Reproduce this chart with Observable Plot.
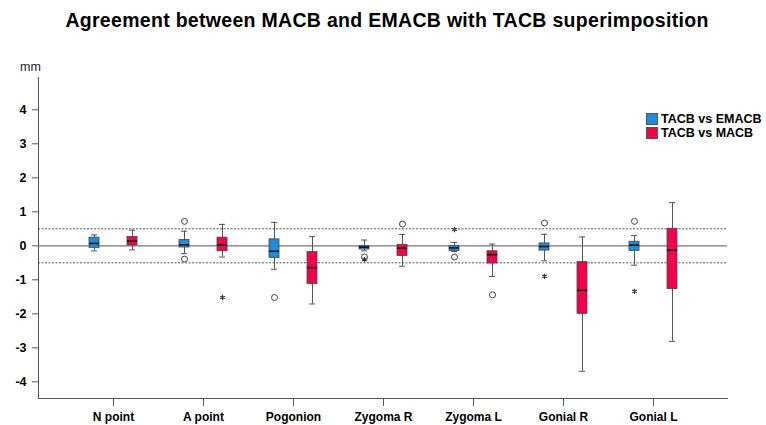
<!DOCTYPE html>
<html><head><meta charset="utf-8">
<script src="https://cdn.jsdelivr.net/npm/d3@7"></script>
<script src="https://cdn.jsdelivr.net/npm/@observablehq/plot@0.6"></script>
<style>
body{margin:0;background:#fff;font-family:"Liberation Sans",Arial,sans-serif;}
#wrap{position:relative;width:766px;height:425px;overflow:hidden;}
#title{height:40px;box-sizing:border-box;padding-top:9px;padding-left:8px;text-align:center;font-weight:bold;font-size:19.5px;line-height:22px;letter-spacing:0.3px;color:#000;white-space:nowrap;}
#legend{position:absolute;left:646px;top:112px;font-weight:bold;font-size:12.5px;color:#000;}
.li{display:flex;align-items:center;height:14px;}
.sw{width:12px;height:12px;border:1px solid #555;box-sizing:border-box;margin-right:3px;}
</style></head><body>
<div id="wrap">
<div id="title">Agreement between MACB and EMACB with TACB superimposition</div>
<div id="chart"></div>
<div id="legend"></div>
</div>
<script>
const categories = ["N point","A point","Pogonion","Zygoma R","Zygoma L","Gonial R","Gonial L"];
const series = ["TACB vs EMACB","TACB vs MACB"];
const colors = ["#1a8de3","#f2044d"];

// TACB vs EMACB box statistics (mm)
const emacbMin = [-0.15, -0.23, -0.69, -0.15, -0.17, -0.44, -0.57];
const emacbQ1  = [-0.06, -0.05, -0.36, -0.11, -0.15, -0.14, -0.15];
const emacbMed = [ 0.07,  0.03, -0.16, -0.04, -0.06, -0.02,  0.02];
const emacbQ3  = [ 0.24,  0.17,  0.19, -0.01, -0.01,  0.07,  0.12];
const emacbMax = [ 0.32,  0.43,  0.69,  0.17,  0.10,  0.34,  0.30];

// TACB vs MACB box statistics (mm)
const macbMin = [-0.12, -0.33, -1.71, -0.60, -0.90, -3.69, -2.81];
const macbQ1  = [ 0.01, -0.16, -1.12, -0.30, -0.52, -2.00, -1.27];
const macbMed = [ 0.14,  0.03, -0.64, -0.07, -0.26, -1.31, -0.13];
const macbQ3  = [ 0.26,  0.24, -0.18,  0.03, -0.16, -0.48,  0.50];
const macbMax = [ 0.46,  0.63,  0.27,  0.33,  0.05,  0.26,  1.27];

// Outliers (circles) and extremes (stars)
const emacbCircleCat = ["A point","A point","Pogonion","Zygoma R","Zygoma L","Gonial R","Gonial L"];
const emacbCircleVal = [0.72, -0.39, -1.52, -0.33, -0.33, 0.67, 0.72];
const emacbStarCat = ["Zygoma R","Zygoma L","Gonial R","Gonial L"];
const emacbStarVal = [-0.41, 0.48, -0.90, -1.34];
const macbCircleCat = ["Zygoma R","Zygoma L"];
const macbCircleVal = [0.64, -1.44];
const macbStarCat = ["A point"];
const macbStarVal = [-1.52];

const yTicks = [-4,-3,-2,-1,0,1,2,3,4];
const refLines = [-0.5, 0.5];

const stats = [
  {min: emacbMin, q1: emacbQ1, med: emacbMed, q3: emacbQ3, max: emacbMax,
   cc: emacbCircleCat, cv: emacbCircleVal, sc: emacbStarCat, sv: emacbStarVal},
  {min: macbMin, q1: macbQ1, med: macbMed, q3: macbQ3, max: macbMax,
   cc: macbCircleCat, cv: macbCircleVal, sc: macbStarCat, sv: macbStarVal}
];
const offsets = [-19, 19];

const marks = [
  Plot.ruleY(refLines, {stroke:"#555", strokeDasharray:"2,1.5", strokeWidth:1}),
  Plot.ruleY([0], {stroke:"#777", strokeWidth:1.2})
];
series.forEach((s,k) => {
  const st = stats[k];
  const d = categories.map((c,i) => ({cat:c, min:st.min[i], q1:st.q1[i], med:st.med[i], q3:st.q3[i], max:st.max[i]}));
  const circ = st.cc.map((c,i) => ({cat:c, v:st.cv[i]}));
  const star = st.sc.map((c,i) => ({cat:c, v:st.sv[i]}));
  const dx = offsets[k];
  marks.push(
    Plot.ruleX(d, {x:"cat", y1:"min", y2:"max", dx, stroke:"#555", strokeWidth:1}),
    Plot.tickY(d, {x:"cat", y:"min", dx, stroke:"#555", insetLeft:2, insetRight:2}),
    Plot.tickY(d, {x:"cat", y:"max", dx, stroke:"#555", insetLeft:2, insetRight:2}),
    Plot.barY(d, {x:"cat", y1:"q1", y2:"q3", dx, fill:colors[k], stroke:"#444", strokeWidth:0.8}),
    Plot.tickY(d, {x:"cat", y:"med", dx, stroke:"#111", strokeWidth:1.6}),
    Plot.dot(circ, {x:"cat", y:"v", dx, r:3, stroke:"#444", fill:"white", strokeWidth:1}),
    Plot.dot(star, {x:"cat", y:"v", dx, r:2.5, symbol:"asterisk", stroke:"#333", strokeWidth:1.2})
  );
});
marks.push(
  Plot.frame({anchor:"left", stroke:"#555"}),
  Plot.frame({anchor:"bottom", stroke:"#555"}),
  Plot.axisY({ticks:yTicks, tickSize:6, tickPadding:6, fontWeight:"bold", fontSize:12.5, label:null, tickFormat:d=>String(d), stroke:"#555"}),
  Plot.axisX({tickSize:8, tickPadding:6, fontWeight:"bold", fontSize:12, label:null, stroke:"#555"}),
  Plot.text(["mm"], {text:d=>d, frameAnchor:"top-left", dx:-8, dy:-11, textAnchor:"middle", lineAnchor:"middle", fontSize:12.5, fill:"#222"})
);

const chart = Plot.plot({
  width:766, height:385,
  marginTop:37, marginBottom:27, marginLeft:38, marginRight:39,
  style:{fontFamily:"Liberation Sans, Arial, sans-serif", background:"white", color:"#000"},
  x:{domain:categories, paddingInner:0.89, paddingOuter:0.735, axis:null},
  y:{domain:[-4.49, 4.95], axis:null},
  marks
});
document.getElementById("chart").appendChild(chart);

const leg = document.getElementById("legend");
series.forEach((s,k) => {
  const row = document.createElement("div"); row.className = "li";
  const sw = document.createElement("div"); sw.className = "sw"; sw.style.background = colors[k];
  const t = document.createElement("span"); t.textContent = s;
  row.appendChild(sw); row.appendChild(t); leg.appendChild(row);
});
</script>
</body></html>
